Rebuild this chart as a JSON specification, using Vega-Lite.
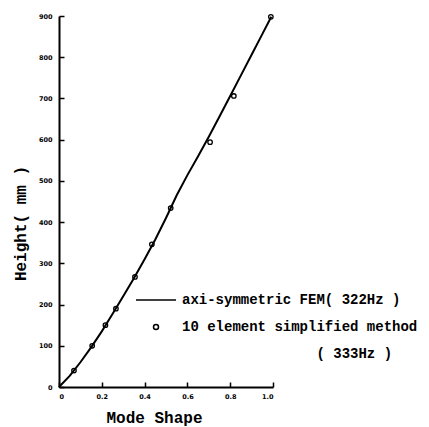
{
  "$schema": "https://vega.github.io/schema/vega-lite/v6.json",
  "width": 214,
  "height": 371,
  "autosize": "none",
  "padding": {"left": 59, "top": 16, "right": 156, "bottom": 40},
  "background": "white",
  "config": {
    "view": {"stroke": null},
    "axis": {
      "domainColor": "black",
      "domainWidth": 2,
      "tickColor": "black",
      "tickWidth": 1.5,
      "tickSize": -5,
      "ticks": true,
      "grid": false,
      "labelFont": "DejaVu Sans",
      "labelFontWeight": "bold",
      "labelFontSize": 6.5,
      "labelColor": "black",
      "titleFont": "Liberation Mono",
      "titleFontWeight": "bold",
      "titleFontSize": 16,
      "titleColor": "black"
    }
  },
  "datasets": {
    "fem": [
      {"x": 0, "y": 0}, {"x": 0.05, "y": 27}, {"x": 0.1, "y": 60}, {"x": 0.15, "y": 96},
      {"x": 0.2, "y": 135}, {"x": 0.25, "y": 177}, {"x": 0.3, "y": 220}, {"x": 0.35, "y": 264},
      {"x": 0.4, "y": 310}, {"x": 0.45, "y": 358}, {"x": 0.5, "y": 410}, {"x": 0.55, "y": 465},
      {"x": 0.6, "y": 514}, {"x": 0.65, "y": 560}, {"x": 0.7, "y": 607}, {"x": 0.75, "y": 656},
      {"x": 0.8, "y": 706}, {"x": 0.85, "y": 756}, {"x": 0.9, "y": 806}, {"x": 0.95, "y": 856},
      {"x": 0.992, "y": 898}
    ],
    "simp": [
      {"x": 0.07, "y": 40, "series": "simplified"},
      {"x": 0.155, "y": 100, "series": "simplified"},
      {"x": 0.217, "y": 150, "series": "simplified"},
      {"x": 0.266, "y": 190, "series": "simplified"},
      {"x": 0.355, "y": 267, "series": "simplified"},
      {"x": 0.434, "y": 346, "series": "simplified"},
      {"x": 0.522, "y": 434, "series": "simplified"},
      {"x": 0.706, "y": 594, "series": "simplified"},
      {"x": 0.817, "y": 706, "series": "simplified"},
      {"x": 0.99, "y": 898, "series": "simplified"}
    ]
  },
  "encoding": {
    "x": {
      "field": "x", "type": "quantitative",
      "scale": {"domain": [0, 1], "nice": false, "zero": false},
      "axis": {
        "title": "Mode Shape",
        "values": [0, 0.2, 0.4, 0.6, 0.8, 1.0],
        "labelExpr": "datum.value == 0 ? '0' : format(datum.value, '.1f')",
        "labelPadding": 11,
        "titleX": 95,
        "titleY": 22,
        "titleAnchor": null,
        "encode": {"ticks": {"update": {"y2": {"value": -4}}}}
      }
    },
    "y": {
      "field": "y", "type": "quantitative",
      "scale": {"domain": [0, 900], "nice": false, "zero": false},
      "axis": {
        "title": "Height( mm )",
        "values": [0, 100, 200, 300, 400, 500, 600, 700, 800, 900],
        "labelPadding": 12,
        "titleX": -31,
        "titleY": 207,
        "encode": {"ticks": {"update": {"x2": {"value": 4}}}}
      }
    }
  },
  "layer": [
    {
      "data": {"name": "fem"},
      "mark": {"type": "line", "color": "black", "strokeWidth": 2}
    },
    {
      "data": {"name": "simp"},
      "mark": {"type": "point", "filled": false, "color": "black", "strokeWidth": 1.3, "size": 20, "opacity": 1},
      "encoding": {
        "shape": {
          "field": "series", "type": "nominal",
          "scale": {"domain": ["FEM", "simplified", "note"], "range": ["M-8,0L8,0", "circle", "M0,0"]},
          "legend": {
            "orient": "none",
            "legendX": 90,
            "legendY": 277,
            "title": null,
            "padding": 0,
            "symbolSize": 25,
            "symbolStrokeColor": "black",
            "symbolFillColor": "transparent",
            "labelFont": "Liberation Mono",
            "labelFontWeight": "bold",
            "labelFontSize": 14,
            "labelColor": "black",
            "labelOffset": 19,
            "labelLimit": 0,
            "rowPadding": 13,
            "labelExpr": "datum.value === 'FEM' ? 'axi-symmetric FEM( 322Hz )' : datum.value === 'simplified' ? '10 element simplified method' : '\u200b\u00a0\u00a0\u00a0\u00a0\u00a0\u00a0\u00a0\u00a0\u00a0\u00a0\u00a0\u00a0\u00a0\u00a0\u00a0\u00a0( 333Hz )'",
            "encode": {
              "symbols": {"update": {"strokeWidth": {"signal": "datum.value === 'FEM' ? 2 : 1.3"}, "stroke": {"value": "black"}, "opacity": {"value": 1}}}
            }
          }
        }
      }
    }
  ]
}
